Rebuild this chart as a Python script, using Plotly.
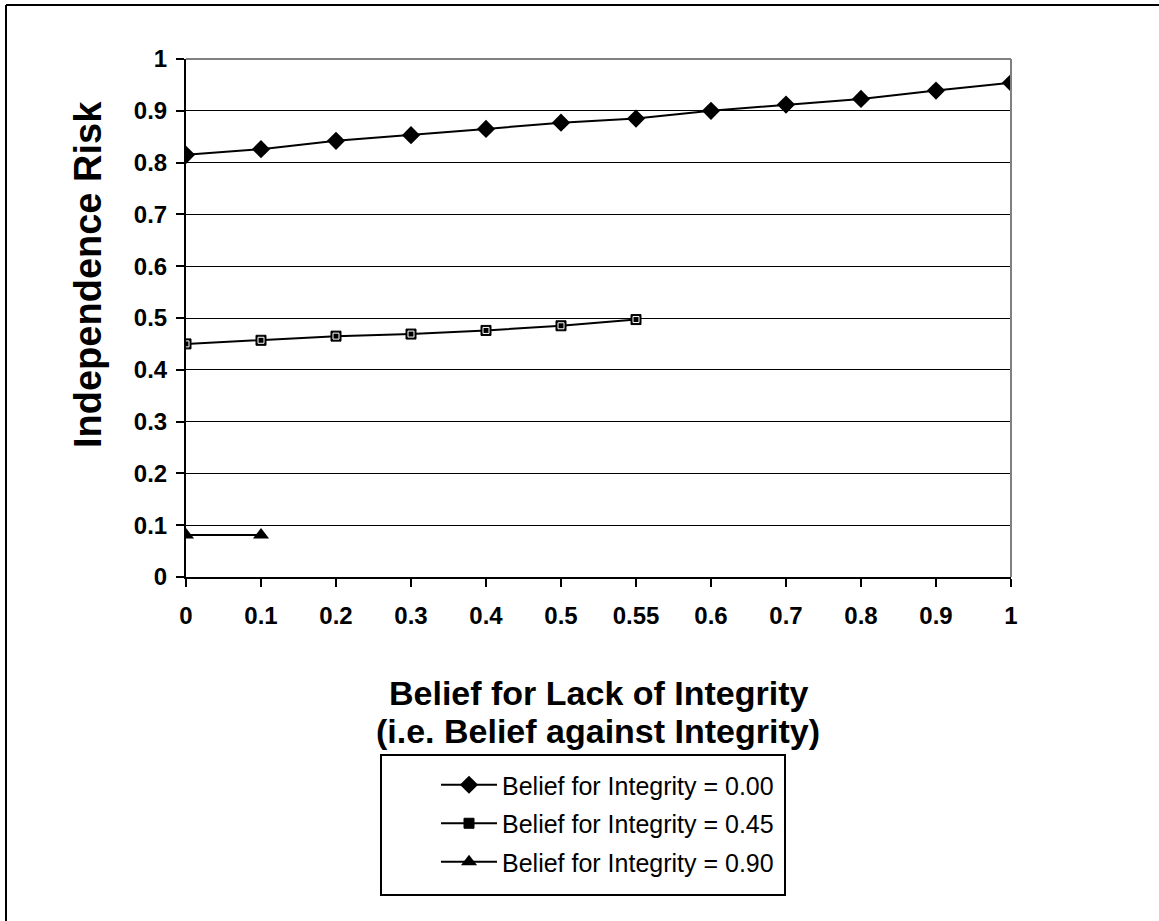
import plotly.graph_objects as go

x_labels = ["0", "0.1", "0.2", "0.3", "0.4", "0.5", "0.55", "0.6", "0.7", "0.8", "0.9", "1"]
y_ticks = [0, 0.1, 0.2, 0.3, 0.4, 0.5, 0.6, 0.7, 0.8, 0.9, 1]
y_tick_labels = ["0", "0.1", "0.2", "0.3", "0.4", "0.5", "0.6", "0.7", "0.8", "0.9", "1"]

x_title_lines = ["Belief for Lack of Integrity", "(i.e. Belief against Integrity)"]
y_title = "Independence Risk"

s1_name = "Belief for Integrity = 0.00"
s1_values = [0.815, 0.826, 0.842, 0.853, 0.865, 0.877, 0.885, 0.900, 0.912, 0.923, 0.939, 0.954]
s2_name = "Belief for Integrity = 0.45"
s2_values = [0.450, 0.457, 0.465, 0.469, 0.476, 0.485, 0.497]
s3_name = "Belief for Integrity = 0.90"
s3_values = [0.081, 0.081]

idx = list(range(len(x_labels)))
FONT = "Liberation Sans, Arial, sans-serif"

fig = go.Figure()
fig.add_trace(go.Scatter(x=idx[:len(s1_values)], y=s1_values, name=s1_name, mode="lines+markers",
                         line=dict(color="black", width=2), legendgroup="a",
                         marker=dict(symbol="diamond", size=14, color="black")))
fig.add_trace(go.Scatter(x=idx[:len(s2_values)], y=s2_values, name=s2_name, mode="lines+markers",
                         line=dict(color="black", width=2), legendgroup="b",
                         marker=dict(symbol="square", size=10, color="black", line=dict(color="black", width=1))))
fig.add_trace(go.Scatter(x=idx[:len(s2_values)], y=s2_values, mode="markers", showlegend=False,
                         hoverinfo="skip",
                         marker=dict(symbol="square-open", size=6, color="white", line=dict(color="white", width=1))))
fig.add_trace(go.Scatter(x=idx[:len(s3_values)], y=s3_values, name=s3_name, mode="lines+markers",
                         line=dict(color="black", width=2), legendgroup="c",
                         marker=dict(symbol="triangle-up", size=14, color="black")))

L, R, T, B = 186, 148, 59, 344
W, H = 1159, 921
pw, ph = W - L - R, H - T - B

def px(xp):
    return (xp - L) / pw

def py(yp):
    return (H - B - yp) / ph

shapes = [
    dict(type="line", xref="paper", yref="paper", x0=0, x1=1, y0=1, y1=1, line=dict(color="#808080", width=2)),
    dict(type="line", xref="paper", yref="paper", x0=1, x1=1, y0=0, y1=1, line=dict(color="#808080", width=2)),
    dict(type="line", xref="paper", yref="paper", x0=px(6), x1=px(1165), y0=py(5), y1=py(5), line=dict(color="black", width=2)),
    dict(type="line", xref="paper", yref="paper", x0=px(6), x1=px(6), y0=py(5), y1=py(925), line=dict(color="black", width=2)),
    dict(type="rect", xref="paper", yref="paper", x0=px(381), x1=px(785), y0=py(755), y1=py(895),
         line=dict(color="black", width=2), fillcolor="rgba(0,0,0,0)"),
]

annotations = [
    dict(text=x_title_lines[0], xref="paper", yref="paper", x=px(598), y=py(693), showarrow=False,
         xanchor="center", yanchor="middle", font=dict(size=34, family=FONT, weight="bold", color="black")),
    dict(text=x_title_lines[1], xref="paper", yref="paper", x=px(598), y=py(731), showarrow=False,
         xanchor="center", yanchor="middle", font=dict(size=34, family=FONT, weight="bold", color="black")),
    dict(text=y_title, xref="paper", yref="paper", x=px(88), y=py(275), showarrow=False, textangle=-90,
         xanchor="center", yanchor="middle", font=dict(size=38, family=FONT, weight="bold", color="black")),
]

fig.update_layout(
    width=W, height=H,
    margin=dict(l=L, r=R, t=T, b=B),
    paper_bgcolor="white", plot_bgcolor="white",
    font=dict(family=FONT, color="black"),
    showlegend=True,
    legend=dict(x=px(436), y=py(762), xanchor="left", yanchor="top",
                font=dict(size=25, family=FONT, color="black"),
                bgcolor="rgba(0,0,0,0)", borderwidth=0, itemwidth=56,
                tracegroupgap=3),
    shapes=shapes,
    annotations=annotations,
    xaxis=dict(
        range=[0, len(x_labels) - 1], tickmode="array", tickvals=idx, ticktext=x_labels,
        showline=True, linecolor="black", linewidth=2, showgrid=False, zeroline=False,
        ticks="outside", ticklen=8, tickwidth=2, tickcolor="black", ticklabelstandoff=8,
        tickfont=dict(size=24, family=FONT, weight="bold"),
    ),
    yaxis=dict(
        range=[0, 1], tickmode="array", tickvals=y_ticks, ticktext=y_tick_labels,
        showline=True, linecolor="black", linewidth=2, showgrid=True, gridcolor="black", gridwidth=1,
        zeroline=False, ticks="outside", ticklen=8, tickwidth=2, tickcolor="black", ticklabelstandoff=4,
        tickfont=dict(size=24, family=FONT, weight="bold"),
    ),
)

fig.write_html("out.html", config={"displayModeBar": False},
               post_script="document.body.style.margin='0';")
